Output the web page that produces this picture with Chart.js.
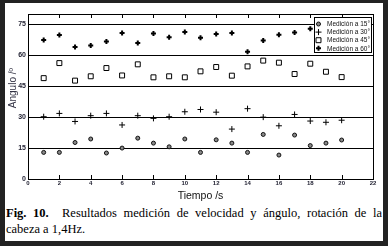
<!DOCTYPE html>
<html>
<head>
<meta charset="utf-8">
<script src="https://cdn.jsdelivr.net/npm/chart.js@4.4.1/dist/chart.umd.min.js"></script>
<style>
  html, body { margin: 0; padding: 0; }
  body { width: 388px; height: 246px; background: #222; position: relative; overflow: hidden; }
  #page { position: absolute; left: 5px; top: 3px; width: 378px; height: 238px; background: #fff; }
  #wrap { position: absolute; left: 0; top: 0; width: 388px; height: 203px; }
  #caption { position: absolute; left: 6px; top: 205px; width: 376px; font: 12.5px "Liberation Serif", "DejaVu Serif", serif; line-height: 16px; color: #000; }
  #caption .l1 { text-align: justify; text-align-last: justify; white-space: nowrap; }
</style>
</head>
<body>
<div id="page"></div>
<div id="wrap"><canvas id="c"></canvas></div>
<div id="caption"><div class="l1"><b>Fig. 10.</b>&nbsp; Resultados medición de velocidad y ángulo, rotación de la</div><div>cabeza a 1,4Hz.</div></div>
<script>
const tiempo = [1, 2, 3, 4, 5, 6, 7, 8, 9, 10, 11, 12, 13, 14, 15, 16, 17, 18, 19, 20];
const med15 = [12.9, 12.9, 17.7, 19.4, 12.6, 15.0, 19.8, 17.4, 15.6, 19.4, 12.9, 19.0, 17.4, 12.9, 21.6, 11.6, 21.3, 16.2, 17.4, 18.9];
const med30 = [30.2, 31.8, 27.9, 30.7, 31.8, 26.2, 30.7, 29.4, 30.2, 32.6, 33.7, 32.4, 24.2, 34.1, 30.0, 25.8, 31.3, 28.1, 27.5, 28.5];
const med45 = [48.9, 56.2, 47.7, 49.8, 53.8, 50.2, 55.6, 49.3, 49.8, 49.3, 52.2, 54.3, 50.1, 54.6, 57.4, 56.4, 50.9, 55.9, 52.0, 49.4];
const med60 = [67.4, 69.8, 64.0, 64.7, 66.7, 70.8, 65.9, 70.6, 68.7, 71.3, 68.5, 70.3, 70.8, 61.7, 67.2, 70.0, 71.0, 72.9, 70.0, 71.5];
const seriesLabels = ['Medición a 15°', 'Medición a 30°', 'Medición a 45°', 'Medición a 60°'];
const xTicks = [0, 2, 4, 6, 8, 10, 12, 14, 16, 18, 20, 22];
const yTicks = [0, 15, 30, 45, 60, 75];
const yTitle = 'Angulo /º';

const pts = arr => tiempo.map((x, i) => ({ x, y: arr[i] }));

const styles = [
  { pointStyle: 'circle', radius: 2, borderWidth: 1, borderColor: '#111', backgroundColor: '#888' },
  { pointStyle: 'cross', radius: 3, borderWidth: 1, borderColor: '#000', backgroundColor: '#000' },
  { pointStyle: 'rect', radius: 3.5, borderWidth: 1, borderColor: '#000', backgroundColor: '#fff' },
  { pointStyle: 'cross', radius: 2.5, borderWidth: 2, borderColor: '#000', backgroundColor: '#000' }
];

// inward ticks on top/bottom, frame, y title and boxed legend inside the plot
const framePlugin = {
  id: 'frame',
  afterDraw(chart) {
    const ctx = chart.ctx, a = chart.chartArea, xs = chart.scales.x;
    ctx.save();
    ctx.strokeStyle = '#000';
    ctx.lineWidth = 1;
    ctx.strokeRect(Math.round(a.left) + 0.5, Math.round(a.top) + 0.5, Math.round(a.right - a.left), Math.round(a.bottom - a.top));
    ctx.beginPath();
    xTicks.forEach(v => {
      const px = Math.round(xs.getPixelForValue(v)) + 0.5;
      ctx.moveTo(px, a.top); ctx.lineTo(px, a.top + 4);
      ctx.moveTo(px, a.bottom); ctx.lineTo(px, a.bottom - 4);
    });
    ctx.stroke();

    // y axis title, sits a bit above the middle like the original
    ctx.save();
    ctx.translate(13.5, 88);
    ctx.rotate(-Math.PI / 2);
    ctx.font = '10px "Liberation Sans", Arial, sans-serif';
    ctx.fillStyle = '#334';
    ctx.textAlign = 'center';
    ctx.textBaseline = 'middle';
    ctx.fillText(yTitle, 0, 0);
    ctx.restore();

    // legend
    const bx = 314.5, by = 17.5, bw = 57, bh = 35;
    ctx.fillStyle = '#fff';
    ctx.fillRect(bx, by, bw, bh);
    ctx.strokeRect(bx, by, bw, bh);
    ctx.font = '6.5px "Liberation Sans", Arial, sans-serif';
    ctx.textBaseline = 'middle';
    seriesLabels.forEach((lab, i) => {
      const y = 24 + i * 8.1;
      const s = styles[i];
      ctx.strokeStyle = s.borderColor;
      ctx.fillStyle = s.backgroundColor;
      ctx.lineWidth = s.borderWidth;
      Chart.helpers.drawPoint(ctx, { pointStyle: s.pointStyle, radius: s.radius, borderWidth: s.borderWidth }, 318.5, y);
      ctx.fillStyle = '#111';
      ctx.fillText(lab, 327, y + 0.5);
    });
    ctx.restore();
  }
};

const datasets = [med15, med30, med45, med60].map((arr, i) => ({
  label: seriesLabels[i],
  data: pts(arr),
  pointStyle: styles[i].pointStyle,
  pointRadius: styles[i].radius,
  pointBorderWidth: styles[i].borderWidth,
  pointBorderColor: styles[i].borderColor,
  pointBackgroundColor: styles[i].backgroundColor,
  showLine: false
}));

new Chart(document.getElementById('c'), {
  type: 'scatter',
  data: { datasets },
  options: {
    responsive: true, maintainAspectRatio: false, animation: false,
    layout: { padding: { top: 14, right: 15, left: 0, bottom: 0 } },
    plugins: { legend: { display: false }, tooltip: { enabled: false } },
    scales: {
      x: {
        type: 'linear', min: 0, max: 22,
        afterBuildTicks: s => { s.ticks = xTicks.map(v => ({ value: v })); },
        afterFit: s => { s.height = 24; },
        grid: { display: false, drawTicks: false },
        border: { display: true, color: '#000' },
        ticks: { color: '#223', padding: 1, font: { size: 6, family: 'Liberation Sans', weight: 'bold' } },
        title: { display: true, text: 'Tiempo /s', color: '#111', padding: { top: 0, bottom: 1 }, font: { size: 10.5, family: 'Liberation Sans' } }
      },
      y: {
        min: 0, max: 80,
        afterBuildTicks: s => { s.ticks = yTicks.map(v => ({ value: v })); },
        afterFit: s => { s.width = 28; },
        grid: { color: '#000', lineWidth: 1, drawTicks: false },
        border: { display: true, color: '#000' },
        ticks: { color: '#223', padding: 2, font: { size: 7, family: 'Liberation Sans', weight: 'bold' } }
      }
    }
  },
  plugins: [framePlugin]
});
</script>
</body>
</html>
